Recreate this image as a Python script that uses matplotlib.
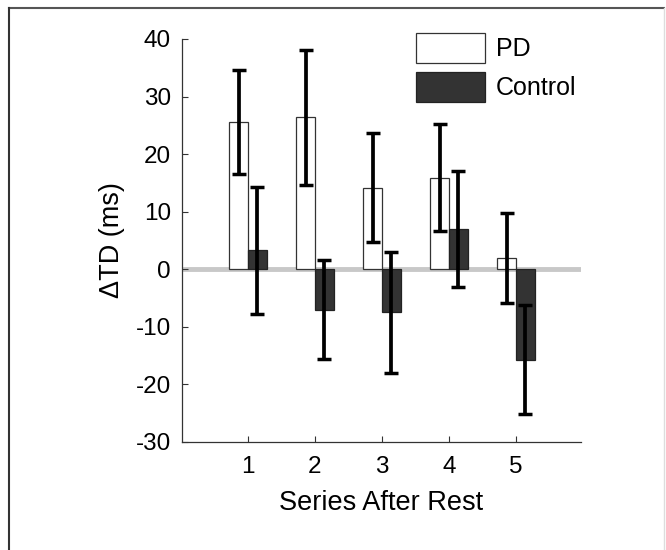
import matplotlib
matplotlib.use('Agg')
import matplotlib.pyplot as plt
import numpy as np
from matplotlib.lines import Line2D

plt.rcParams['font.family'] = ['Liberation Sans', 'DejaVu Sans']
plt.rcParams['axes.unicode_minus'] = False

# data
series = [1, 2, 3, 4, 5]
pd_mean = [25.6, 26.4, 14.2, 15.9, 2.0]
pd_err = [9.0, 11.7, 9.5, 9.3, 7.8]
ctrl_mean = [3.3, -7.0, -7.5, 7.0, -15.7]
ctrl_err = [11.0, 8.6, 10.5, 10.0, 9.5]

fig = plt.figure(figsize=(6.66, 5.5), dpi=100)
ax = fig.add_axes([0.2733, 0.1964, 0.599, 0.7327])

x = np.array(series, dtype=float)
w = 0.28

ax.axhline(0, color='#c8c8c8', lw=3.5, zorder=1)

ax.bar(x - w / 2, pd_mean, w, color='white', edgecolor='#333333', lw=0.9,
       label='PD', zorder=2)
ax.bar(x + w / 2, ctrl_mean, w, color='#333333', edgecolor='#222222', lw=0.9,
       label='Control', zorder=2)

ax.errorbar(x - w / 2, pd_mean, yerr=pd_err, fmt='none', ecolor='black',
            elinewidth=2.7, capsize=4.8, capthick=2.5, zorder=3)
ax.errorbar(x + w / 2, ctrl_mean, yerr=ctrl_err, fmt='none', ecolor='black',
            elinewidth=2.7, capsize=4.8, capthick=2.5, zorder=3)

ax.set_xlim(0.015, 5.97)
ax.set_ylim(-30, 40)
ax.set_xticks(series)
ax.set_yticks(np.arange(-30, 41, 10))
ax.tick_params(direction='in', length=4, width=0.8, colors='#333333',
               labelsize=17.5, labelcolor='black', pad=8)
ax.tick_params(axis='x', pad=10)

for s in ['top', 'right']:
    ax.spines[s].set_visible(False)
for s in ['left', 'bottom']:
    ax.spines[s].set_color('#333333')
    ax.spines[s].set_linewidth(0.9)

ax.set_xlabel('Series After Rest', fontsize=19.5, labelpad=9)
ax.set_ylabel('\u0394TD (ms)', fontsize=19.5, labelpad=8)

ax.legend(loc='upper left', bbox_to_anchor=(0.586, 1.016), frameon=False,
          fontsize=18, handlelength=2.75, handleheight=1.5, labelspacing=0.35,
          handletextpad=0.45, borderpad=0, borderaxespad=0)

# picture frame
fig.add_artist(Line2D([9 / 666, 664 / 666], [1 - 8 / 550, 1 - 8 / 550],
                      transform=fig.transFigure, color='#555555', lw=1.5))
fig.add_artist(Line2D([9 / 666, 9 / 666], [0, 1 - 8 / 550],
                      transform=fig.transFigure, color='#333333', lw=1.5))
fig.add_artist(Line2D([664 / 666, 664 / 666], [0, 1 - 8 / 550],
                      transform=fig.transFigure, color='#dddddd', lw=1.0))

fig.savefig('out.png', dpi=100)
